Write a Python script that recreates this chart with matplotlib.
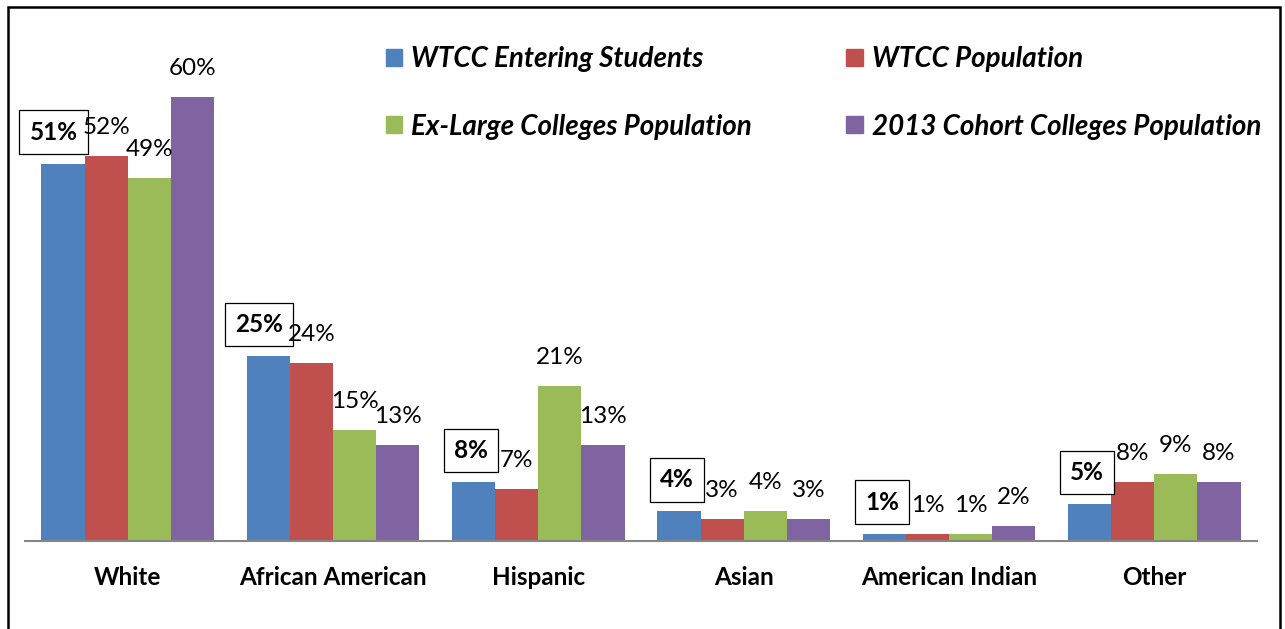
import matplotlib.pyplot as plt
import matplotlib.patches as mpatches
import numpy as np

plt.rcParams['font.family'] = ['Lato', 'DejaVu Sans']

# datos
categorias = ['White', 'African American', 'Hispanic', 'Asian', 'American Indian', 'Other']
series = ['WTCC Entering Students', 'WTCC Population',
          'Ex-Large Colleges Population', '2013 Cohort Colleges Population']
entering = [51, 25, 8, 4, 1, 5]
wtcc_pop = [52, 24, 7, 3, 1, 8]
exlarge = [49, 15, 21, 4, 1, 9]
cohort = [60, 13, 13, 3, 2, 8]
colores = ['#4F81BD', '#C0504D', '#9BBB59', '#8064A2']

W, H = 1285, 629
fig = plt.figure(figsize=(W / 100, H / 100), dpi=100)
ax = fig.add_axes([25 / W, (H - 541) / H, 1232 / W, 518 / H])

x = np.arange(len(categorias))
ancho = 0.21
valores = [entering, wtcc_pop, exlarge, cohort]
for i, (vals, col) in enumerate(zip(valores, colores)):
    pos = x + (i - 1.5) * ancho
    ax.bar(pos, vals, ancho, color=col, label=series[i], zorder=2)
    for p, v in zip(pos, vals):
        if i == 0:
            # etiqueta en negrita con recuadro, alineada al borde derecho de la barra
            ax.annotate(f'{v}%', (p + ancho / 2, v), xytext=(-7, 20),
                        textcoords='offset pixels', ha='right', va='bottom',
                        fontsize=17.5, fontweight='bold',
                        bbox=dict(boxstyle='square,pad=0.42', fc='white', ec='black', lw=0.9))
        else:
            ax.annotate(f'{v}%', (p, v), xytext=(0, 18), textcoords='offset pixels',
                        ha='center', va='bottom', fontsize=17.5)

ax.set_xlim(-0.5, len(categorias) - 0.5)
ax.set_ylim(0, 70)
ax.set_xticks(x)
ax.set_xticklabels(categorias, fontsize=17.5, fontweight='bold')
ax.tick_params(axis='x', length=0, pad=18)
ax.set_yticks([])
for s in ['top', 'right', 'left']:
    ax.spines[s].set_visible(False)
ax.spines['bottom'].set_color('#868686')
ax.spines['bottom'].set_linewidth(1.5)

# leyenda en dos filas
orden = [0, 2, 1, 3]
handles = [mpatches.Patch(color=colores[k]) for k in orden]
labels = [series[k] for k in orden]
fig.legend(handles, labels, loc='upper left', bbox_to_anchor=(386 / W, 1 - 46 / H),
           ncol=2, frameon=False, borderpad=0, borderaxespad=0,
           prop={'size': 20, 'weight': 'bold', 'style': 'italic'},
           handlelength=0.58, handleheight=0.58, handletextpad=0.33,
           columnspacing=3.4, labelspacing=1.5)

# marco exterior
fig.patches.append(mpatches.Rectangle((8 / W, -0.05), (1280 - 8) / W, 1.05 - 7 / H,
                                      transform=fig.transFigure, fill=False,
                                      ec='black', lw=1.8))

fig.savefig('out.png', dpi=100)
